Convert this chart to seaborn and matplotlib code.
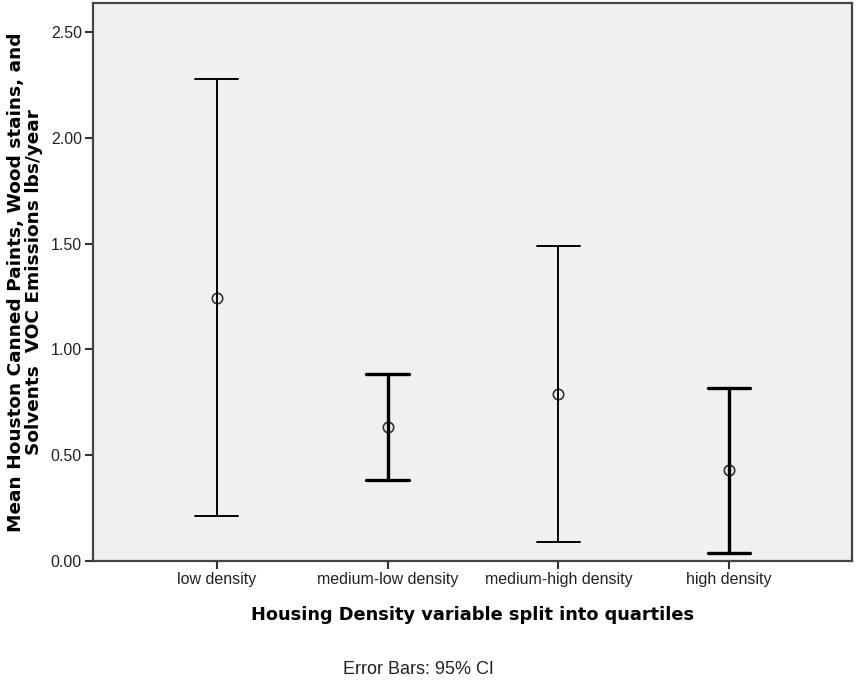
import pandas as pd
import matplotlib
matplotlib.use("Agg")
import matplotlib.pyplot as plt
import seaborn as sns
import numpy as np

# Means and 95% CI
categories = ["low density", "medium-low density", "medium-high density", "high density"]
means = [1.245, 0.632, 0.791, 0.429]
ci_low = [0.214, 0.383, 0.091, 0.039]
ci_high = [2.279, 0.884, 1.490, 0.816]
y_ticks = [0.0, 0.5, 1.0, 1.5, 2.0, 2.5]

# line weight of each bar (the original alternates thin / thick)
bar_lw = [1.4, 2.4, 1.4, 2.4]

sns.set_style("white")
plt.rcParams['font.family'] = ['Liberation Sans', 'DejaVu Sans']

# long table: lower bound, mean, upper bound for every group
rows = []
for cat, lo, m, hi in zip(categories, ci_low, means, ci_high):
    for v in (lo, m, hi):
        rows.append({"density": cat, "value": v})
df = pd.DataFrame(rows)

fig = plt.figure(figsize=(8.57, 6.83), dpi=100)
ax = fig.add_axes([0.1085, 0.1786, 0.8857, 0.8170])
ax.set_facecolor("#f0f0f0")

for cat, lw in zip(categories, bar_lw):
    sns.pointplot(
        data=df[df["density"] == cat], x="density", y="value", order=categories,
        estimator="median", errorbar=lambda x: (x.min(), x.max()),
        linestyle="none", marker="o", markersize=7.5, markerfacecolor="none",
        markeredgecolor="#333333", markeredgewidth=1.2, color="black",
        capsize=0.25, err_kws={"linewidth": lw, "color": "black"}, ax=ax,
    )

ax.set_xlim(-0.725, 3.72)
ax.set_ylim(0, 2.637)
ax.set_yticks(y_ticks)
ax.set_yticklabels([f"{t:.2f}" for t in y_ticks])
ax.tick_params(axis="both", direction="out", length=6, width=1.5,
               color="#333333", labelsize=11.5, labelcolor="#222222", pad=2,
               left=True, bottom=True)

for s in ax.spines.values():
    s.set_color("#444444")
    s.set_linewidth(1.6)

ax.set_xlabel("Housing Density variable split into quartiles",
              fontsize=12.8, fontweight="bold", family="DejaVu Sans", color="black")
ax.xaxis.set_label_coords(0.5, -0.080)
ax.set_ylabel("Mean Houston Canned Paints, Wood stains, and\nSolvents  VOC Emissions lbs/year",
              fontsize=13.3, fontweight="bold", family="DejaVu Sans", linespacing=1.0,
              color="black")
ax.yaxis.set_label_coords(-0.066, 0.5)

fig.text(418 / 857, 1 - 669 / 683, "Error Bars: 95% CI", ha="center", va="center",
         fontsize=13, color="#222222")

fig.savefig("out.png", dpi=100)
